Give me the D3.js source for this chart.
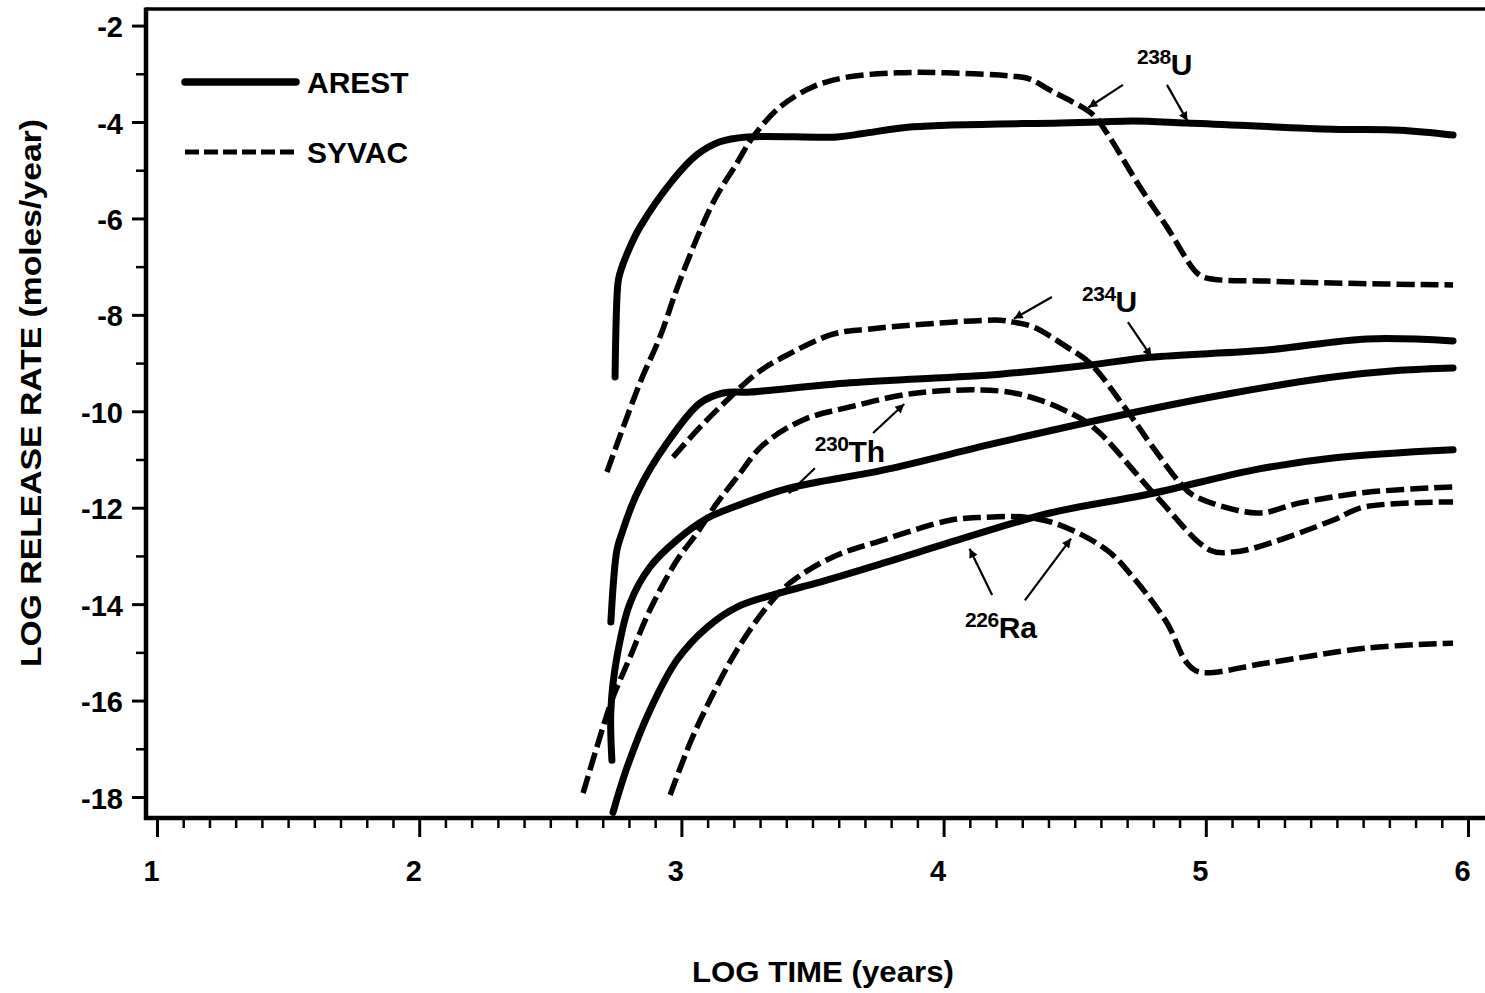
<!DOCTYPE html>
<html>
<head>
<meta charset="utf-8">
<script src="https://cdn.jsdelivr.net/npm/d3@7"></script>
<style>
  html, body { margin: 0; padding: 0; background: #fff; }
  svg { display: block; }
  text { font-family: "Liberation Sans", Arial, Helvetica, sans-serif; font-weight: bold; fill: #000; }
</style>
</head>
<body>
<svg id="chart" width="1485" height="993"></svg>
<script>
// Release rates from the two codes, as [log time (years), log release rate (moles/year)]
const arestU238 = [[2.747,-9.29],[2.758,-7.34],[2.766,-7.13],[2.804,-6.59],[2.842,-6.18],[2.968,-5.20],[3.059,-4.68],[3.147,-4.41],[3.250,-4.31],[3.593,-4.31],[3.693,-4.24],[3.883,-4.10],[4.444,-4.02],[4.596,-4.00],[4.722,-3.98],[4.928,-4.02],[5.485,-4.15],[5.741,-4.17],[5.943,-4.27]];
const syvacU238 = [[2.716,-11.26],[2.842,-9.41],[2.918,-8.46],[2.995,-7.28],[3.120,-5.68],[3.212,-4.85],[3.273,-4.31],[3.376,-3.69],[3.502,-3.27],[3.632,-3.07],[3.822,-2.98],[4.013,-2.98],[4.265,-3.05],[4.329,-3.11],[4.406,-3.34],[4.570,-3.85],[4.623,-4.23],[4.749,-5.35],[4.852,-6.18],[4.966,-7.13],[5.005,-7.24],[5.233,-7.30],[5.485,-7.34],[5.943,-7.38]];
const arestU234 = [[2.731,-14.37],[2.754,-12.88],[2.773,-12.53],[2.831,-11.70],[2.945,-10.66],[3.071,-9.83],[3.159,-9.62],[3.262,-9.60],[3.643,-9.41],[4.215,-9.23],[4.558,-9.04],[4.787,-8.88],[5.233,-8.73],[5.615,-8.50],[5.943,-8.54]];
const syvacU234 = [[2.968,-10.95],[3.071,-10.33],[3.174,-9.77],[3.288,-9.21],[3.387,-8.88],[3.578,-8.40],[3.708,-8.30],[3.883,-8.21],[4.215,-8.11],[4.265,-8.15],[4.341,-8.25],[4.471,-8.67],[4.558,-9.00],[4.699,-9.98],[4.787,-10.66],[4.902,-11.49],[4.951,-11.74],[5.195,-12.11],[5.359,-11.90],[5.615,-11.68],[5.943,-11.57]];
const arestTh230 = [[2.735,-17.24],[2.731,-16.20],[2.754,-15.10],[2.804,-13.98],[2.880,-13.23],[2.983,-12.67],[3.098,-12.22],[3.197,-11.99],[3.414,-11.59],[3.769,-11.22],[4.215,-10.64],[4.711,-10.04],[5.104,-9.62],[5.485,-9.29],[5.741,-9.15],[5.943,-9.10]];
const syvacTh230 = [[2.625,-17.92],[2.701,-16.55],[2.739,-15.93],[2.804,-15.10],[2.880,-14.12],[2.983,-13.09],[3.059,-12.53],[3.136,-11.90],[3.212,-11.37],[3.311,-10.70],[3.464,-10.18],[3.643,-9.91],[3.899,-9.62],[4.215,-9.58],[4.368,-9.77],[4.532,-10.18],[4.596,-10.45],[4.814,-11.78],[5.016,-12.88],[5.104,-12.92],[5.195,-12.82],[5.485,-12.26],[5.600,-11.99],[5.943,-11.88]];
const arestRa226 = [[2.739,-18.32],[2.793,-17.38],[2.880,-16.20],[2.983,-15.16],[3.098,-14.48],[3.212,-14.06],[3.387,-13.75],[3.517,-13.56],[3.769,-13.15],[4.089,-12.61],[4.406,-12.11],[4.799,-11.70],[5.180,-11.22],[5.485,-10.97],[5.943,-10.80]];
const syvacRa226 = [[2.957,-17.96],[3.033,-16.88],[3.109,-15.99],[3.212,-14.95],[3.326,-14.06],[3.414,-13.56],[3.578,-13.02],[3.769,-12.67],[4.024,-12.26],[4.150,-12.20],[4.318,-12.20],[4.444,-12.36],[4.623,-12.88],[4.722,-13.44],[4.852,-14.39],[4.928,-15.22],[4.978,-15.41],[5.233,-15.22],[5.615,-14.91],[5.943,-14.81]];

// Axis ticks
const xMajorTicks = [1, 2, 3, 4, 5, 6];
const yMajorTicks = [-2, -4, -6, -8, -10, -12, -14, -16, -18];
const yMinorTicks = [-3, -5, -7, -9, -11, -13, -15, -17];

// Legend entries and nuclide labels (mass number, symbol, text anchor, arrows in data units)
const legendNames = ["AREST", "SYVAC"];
const nuclideLabels = [
  { mass: "238", sym: "U",  at: [4.738, -3.02],  arrows: [[[4.684,-3.23],[4.552,-3.70]], [[4.852,-3.23],[4.930,-3.98]]] },
  { mass: "234", sym: "U",  at: [4.528, -7.94],  arrows: [[[4.413,-7.63],[4.268,-8.08]], [[4.703,-8.15],[4.793,-8.87]]] },
  { mass: "230", sym: "Th", at: [3.509, -11.05], arrows: [[[3.509,-11.18],[3.410,-11.70]], [[3.731,-10.45],[3.850,-9.85]]] },
  { mass: "226", sym: "Ra", at: [4.082, -14.71], arrows: [[[4.185,-13.81],[4.099,-12.85]], [[4.310,-13.92],[4.486,-12.64]]] }
];

const svg = d3.select("#chart");
const x = d3.scaleLinear().domain([1, 6]).range([157, 1468]);
const y = d3.scaleLinear().domain([-4, -18]).range([122, 797]);

const frame = { left: 146, top: 9, bottom: 818, right: 1500 };
const plainInt = d => String(d);   // keeps the ASCII hyphen on negative labels
const fontFamily = '"Liberation Sans", Arial, sans-serif';

// Frame (right side runs off the page)
svg.append("line").attr("x1", frame.left).attr("x2", frame.right).attr("y1", frame.top).attr("y2", frame.top)
  .attr("stroke", "#000").attr("stroke-width", 3.5);
svg.append("line").attr("x1", frame.left).attr("x2", frame.left).attr("y1", frame.top - 1.5).attr("y2", frame.bottom + 2)
  .attr("stroke", "#000").attr("stroke-width", 4.5);
svg.append("line").attr("x1", frame.left - 2).attr("x2", frame.right).attr("y1", frame.bottom).attr("y2", frame.bottom)
  .attr("stroke", "#000").attr("stroke-width", 4.5);

// X axis: major ticks with labels, minor ticks every 0.1
const xMinor = d3.range(11, 60).filter(v => v % 10 !== 0).map(v => v / 10);
svg.append("g").attr("transform", `translate(0,${frame.bottom + 2})`)
  .call(d3.axisBottom(x).tickValues(xMinor).tickSize(8).tickFormat(""))
  .call(g => g.select(".domain").remove())
  .call(g => g.selectAll("line").attr("stroke-width", 2.5));
svg.append("g").attr("transform", `translate(0,${frame.bottom + 2})`)
  .call(d3.axisBottom(x).tickValues(xMajorTicks).tickSize(17).tickPadding(23).tickFormat(plainInt))
  .call(g => g.select(".domain").remove())
  .call(g => g.selectAll("line").attr("stroke-width", 3))
  .call(g => g.selectAll("text").attr("font-size", 29).attr("dx", -6)
    .style("font-family", fontFamily).style("font-weight", "bold"));

// Y axis: labelled ticks at even values, short ticks at odd values
svg.append("g").attr("transform", `translate(${frame.left - 2},0)`)
  .call(d3.axisLeft(y).tickValues(yMinorTicks).tickSize(8).tickFormat(""))
  .call(g => g.select(".domain").remove())
  .call(g => g.selectAll("line").attr("stroke-width", 2.5));
svg.append("g").attr("transform", `translate(${frame.left - 2},0)`)
  .call(d3.axisLeft(y).tickValues(yMajorTicks).tickSize(12).tickPadding(9).tickFormat(plainInt))
  .call(g => g.select(".domain").remove())
  .call(g => g.selectAll("line").attr("stroke-width", 3))
  .call(g => g.selectAll("text").attr("font-size", 29).attr("dy", "0.38em")
    .style("font-family", fontFamily).style("font-weight", "bold"));

// Axis titles
svg.append("text").attr("x", 823).attr("y", 982).attr("text-anchor", "middle")
  .attr("font-size", 30).attr("textLength", 262).attr("lengthAdjust", "spacingAndGlyphs")
  .text("LOG TIME (years)");
svg.append("text").attr("transform", "translate(41,393) rotate(-90)").attr("text-anchor", "middle")
  .attr("font-size", 30).attr("textLength", 548).attr("lengthAdjust", "spacingAndGlyphs")
  .text("LOG RELEASE RATE (moles/year)");

// Curves
const line = d3.line().x(d => x(d[0])).y(d => y(d[1])).curve(d3.curveCatmullRom.alpha(0.5));
const solidStyle = { width: 7, dash: null };
const dashStyle = { width: 5.5, dash: "18,6" };
const series = [
  [syvacU238, dashStyle], [syvacU234, dashStyle], [syvacTh230, dashStyle], [syvacRa226, dashStyle],
  [arestU238, solidStyle], [arestU234, solidStyle], [arestTh230, solidStyle], [arestRa226, solidStyle]
];
svg.append("g").selectAll("path").data(series).join("path")
  .attr("d", d => line(d[0]))
  .attr("fill", "none").attr("stroke", "#000")
  .attr("stroke-width", d => d[1].width)
  .attr("stroke-dasharray", d => d[1].dash)
  .attr("stroke-linejoin", "round")
  .attr("stroke-linecap", d => d[1].dash ? "butt" : "round");

// Legend
const legend = svg.append("g");
const legendStyles = [solidStyle, dashStyle];
legendNames.forEach((name, i) => {
  const ly = 82 + i * 70;
  legend.append("line").attr("x1", 185).attr("x2", 296).attr("y1", ly).attr("y2", ly)
    .attr("stroke", "#000")
    .attr("stroke-width", i === 0 ? 7.5 : 5)
    .attr("stroke-dasharray", legendStyles[i].dash ? "14,5" : null)
    .attr("stroke-linecap", i === 0 ? "round" : "butt");
  legend.append("text").attr("x", 307).attr("y", ly + 11).attr("font-size", 30).text(name);
});

// Arrowhead marker
svg.append("defs").append("marker")
  .attr("id", "head").attr("viewBox", "0 0 10 10").attr("refX", 10).attr("refY", 5)
  .attr("markerUnits", "userSpaceOnUse").attr("orient", "auto")
  .attr("markerWidth", 13).attr("markerHeight", 9)
  .append("path").attr("d", "M0,0 L10,5 L0,10 Z").attr("fill", "#000");

// Nuclide labels with pointer arrows
const labelsG = svg.append("g");
nuclideLabels.forEach(lb => {
  const t = labelsG.append("text").attr("x", x(lb.at[0])).attr("y", y(lb.at[1]));
  t.append("tspan").attr("font-size", 21).attr("dy", -11).attr("letter-spacing", -0.5).text(lb.mass);
  t.append("tspan").attr("font-size", 30).attr("dy", 11).text(lb.sym);
  lb.arrows.forEach(a => {
    labelsG.append("line")
      .attr("x1", x(a[0][0])).attr("y1", y(a[0][1]))
      .attr("x2", x(a[1][0])).attr("y2", y(a[1][1]))
      .attr("stroke", "#000").attr("stroke-width", 2.2)
      .attr("marker-end", "url(#head)");
  });
});
</script>
</body>
</html>
